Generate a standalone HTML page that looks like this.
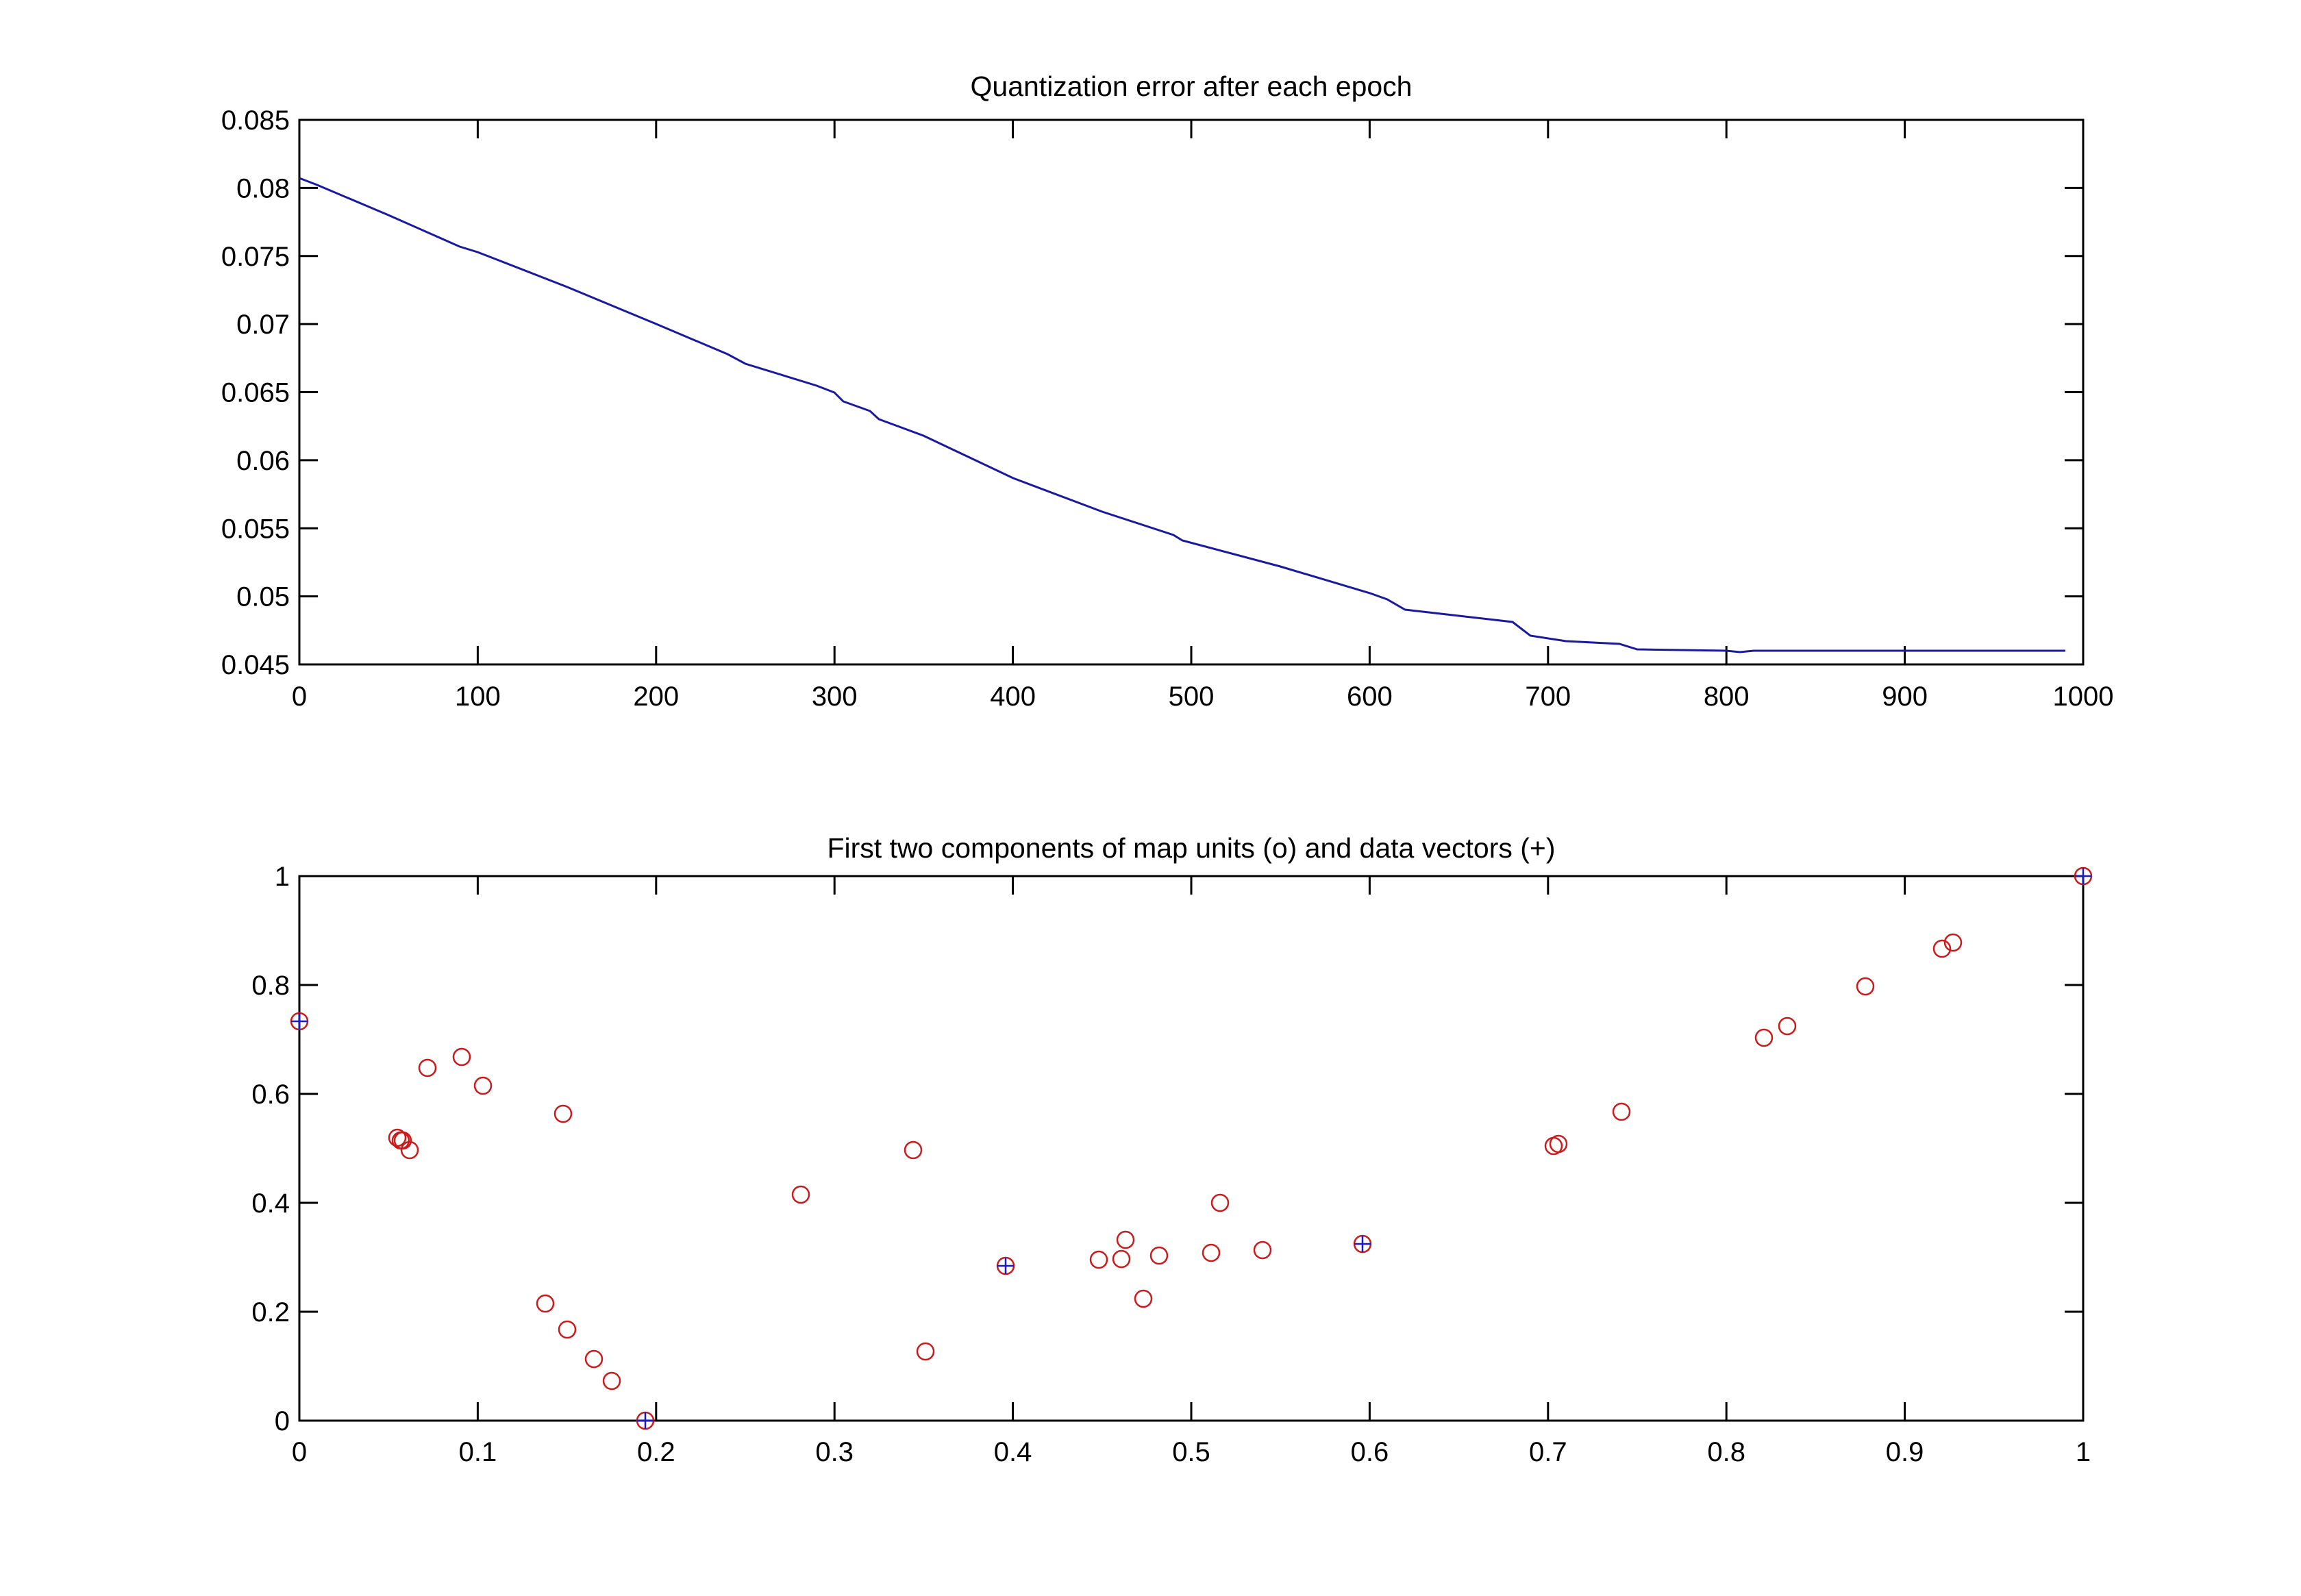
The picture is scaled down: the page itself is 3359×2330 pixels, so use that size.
<!DOCTYPE html>
<html><head><meta charset="utf-8"><style>html,body{margin:0;padding:0;background:#fff}svg{display:block}text{font-family:"Liberation Sans",Arial,sans-serif;font-size:40px;fill:#000}</style></head>
<body>
<svg id="s" width="3359" height="2330" viewBox="0 0 3359 2330" xmlns="http://www.w3.org/2000/svg">
<rect width="3359" height="2330" fill="#fff"/>
<g id="axes" stroke="#000" stroke-width="3" fill="none">
<rect x="437" y="175" width="2604" height="795"/>
<rect x="437" y="1279" width="2604" height="795"/>
</g>
<g id="ticks" stroke="#000" stroke-width="3"></g>
<g id="labels"></g>
<text x="1739" y="140" text-anchor="middle" style="font-size:41px">Quantization error after each epoch</text>
<text x="1739" y="1252" text-anchor="middle" style="font-size:41px">First two components of map units (o) and data vectors (+)</text>
<polyline fill="none" stroke="#1a1aa0" stroke-width="3" points="437,260 463,270 567,314 671,360 684,364 697,368 710,373 828,419 958,473 1062,517 1088,531 1192,563 1218,573 1231,586 1270,600 1283,612 1348,636 1479,698 1609,747 1713,781 1726,789 1869,827 2000,866 2025,875 2051,890 2208,908 2234,928 2286,936 2364,940 2390,948 2520,950 2540,952 2560,950 3015,950"/>
<g id="pts" fill="none" stroke="#cc1a1a" stroke-width="2.5"></g>
<g id="plus" stroke="#1a1acc" stroke-width="2.5"></g>
</svg>
<script>
var NS="http://www.w3.org/2000/svg";
function el(p,t,a,txt){var e=document.createElementNS(NS,t);for(var k in a)e.setAttribute(k,a[k]);if(txt!==undefined)e.textContent=txt;document.getElementById(p).appendChild(e);}
var L=437,R=3041,T1=175,B1=970,T2=1279,B2=2074,tl=27;
for(var i=0;i<=10;i++){var x=L+(R-L)*i/10;
 el("ticks","line",{x1:x,y1:B1,x2:x,y2:B1-tl});el("ticks","line",{x1:x,y1:T1,x2:x,y2:T1+tl});
 el("labels","text",{x:x,y:1030,"text-anchor":"middle"},String(i*100));}
var yl=["0.045","0.05","0.055","0.06","0.065","0.07","0.075","0.08","0.085"];
for(var i=0;i<=8;i++){var y=B1-(B1-T1)*i/8;
 el("ticks","line",{x1:L,y1:y,x2:L+tl,y2:y});el("ticks","line",{x1:R,y1:y,x2:R-tl,y2:y});
 el("labels","text",{x:423,y:y+14,"text-anchor":"end"},yl[i]);}
var xl=["0","0.1","0.2","0.3","0.4","0.5","0.6","0.7","0.8","0.9","1"];
for(var i=0;i<=10;i++){var x=L+(R-L)*i/10;
 el("ticks","line",{x1:x,y1:B2,x2:x,y2:B2-tl});el("ticks","line",{x1:x,y1:T2,x2:x,y2:T2+tl});
 el("labels","text",{x:x,y:2133,"text-anchor":"middle"},xl[i]);}
var yl2=["0","0.2","0.4","0.6","0.8","1"];
for(var i=0;i<=5;i++){var y=B2-(B2-T2)*i/5;
 el("ticks","line",{x1:L,y1:y,x2:L+tl,y2:y});el("ticks","line",{x1:R,y1:y,x2:R-tl,y2:y});
 el("labels","text",{x:423,y:y+14,"text-anchor":"end"},yl2[i]);}
var P=[[437,1491],[580,1661],[585,1665],[588,1665],[598,1679],[624,1559],[674,1543],[705,1585],[822,1626],[796,1903],[828,1941],[867,1984],[893,2016],[942,2074],[1169,1744],[1333,1679],[1351,1973],[1468,1848],[1604,1839],[1637,1838],[1643,1810],[1669,1896],[1692,1833],[1768,1829],[1781,1756],[1843,1825],[1989,1816],[2268,1673],[2275,1670],[2367,1623],[2575,1515],[2609,1498],[2723,1440],[2835,1385],[2851,1376],[3041,1279]];
P.forEach(function(p){el("pts","circle",{cx:p[0],cy:p[1],r:12});});
[[437,1491],[942,2074],[1468,1848],[1989,1816],[3041,1279]].forEach(function(p){
 el("plus","line",{x1:p[0]-12,y1:p[1],x2:p[0]+12,y2:p[1]});el("plus","line",{x1:p[0],y1:p[1]-12,x2:p[0],y2:p[1]+12});});
</script>
</body></html>
